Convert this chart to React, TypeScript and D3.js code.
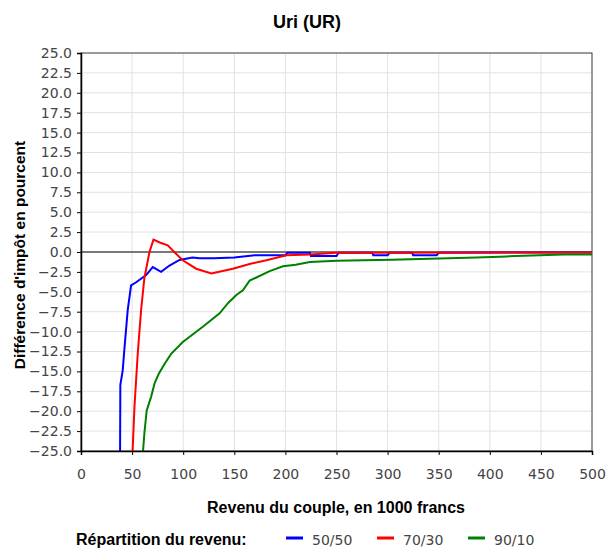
import React, { useRef, useEffect } from "react";
import * as d3 from "d3";

// income of the couple (1000 francs) vs tax difference (%)
const blue5050: [number, number][] = [
  [37.8, -40], [38.5, -16.7], [40.8, -14.9], [42.4, -12.3], [45.7, -7.3], [49, -4.2],
  [54, -3.8], [63.7, -2.9], [70.2, -1.9], [78.4, -2.5], [86.6, -1.7], [96.4, -1.0],
  [109, -0.7], [116, -0.8], [130, -0.8], [150, -0.7], [170, -0.4], [200, -0.4],
  [202, -0.1], [224, -0.1], [225, -0.5], [250, -0.5], [252, -0.1], [285, -0.1],
  [286, -0.4], [300, -0.4], [302, -0.1], [324, -0.1], [325, -0.4], [348, -0.4],
  [350, -0.1], [500, -0.05],
];
const red7030: [number, number][] = [
  [49.5, -28], [52.3, -19.5], [55.5, -12.8], [58.8, -7.3], [62, -3.3], [67, 0],
  [70.9, 1.55], [77, 1.2], [84.9, 0.84], [92, -0.1], [99.6, -1.04], [112.7, -2.1],
  [127.5, -2.7], [148.6, -2.1], [165, -1.5], [181.4, -1.04], [201, -0.4], [224, -0.3],
  [250, -0.1], [500, -0.05],
];
const green9010: [number, number][] = [
  [59.5, -27], [62, -22.8], [64.3, -19.9], [68.6, -18.2], [72, -16.5], [76.1, -15.3],
  [82, -14], [88.2, -12.8], [99.6, -11.3], [119.2, -9.4], [135.6, -7.7], [144, -6.4],
  [152, -5.4], [158.4, -4.8], [165, -3.6], [171.6, -3.2], [184.6, -2.4], [197.6, -1.8],
  [210, -1.6], [224, -1.26], [250, -1.1], [304, -0.96], [387, -0.7], [416.7, -0.55],
  [472, -0.3], [500, -0.3],
];

const series = [
  { name: "50/50", color: "#0000ff", data: blue5050 },
  { name: "70/30", color: "#ff0000", data: red7030 },
  { name: "90/10", color: "#008000", data: green9010 },
];
const xTicks = [0, 50, 100, 150, 200, 250, 300, 350, 400, 450, 500];
const yTicks = d3.range(-25, 25.01, 2.5);

const App = () => {
  const svgRef = useRef<SVGSVGElement>(null);

  useEffect(() => {
    const w = 614;
    const h = 553;
    const margin = { top: 53, right: 22, bottom: 102, left: 81 };
    const svg = d3.select(svgRef.current).attr("width", w).attr("height", h).style("background", "#fff");
    svg.selectAll("*").remove();

    const x = d3.scaleLinear().domain([0, 500]).range([margin.left, w - margin.right]);
    const y = d3.scaleLinear().domain([-25, 25]).range([h - margin.bottom, margin.top]);

    svg.append("defs").append("clipPath").attr("id", "plot-clip")
      .append("rect")
      .attr("x", margin.left).attr("y", margin.top)
      .attr("width", w - margin.left - margin.right)
      .attr("height", h - margin.top - margin.bottom);

    // grid
    svg.append("g").selectAll("line").data(xTicks).enter().append("line")
      .attr("x1", (d) => x(d)).attr("x2", (d) => x(d))
      .attr("y1", margin.top).attr("y2", h - margin.bottom)
      .attr("stroke", "#e2e2e2").attr("stroke-width", 1);
    svg.append("g").selectAll("line").data(yTicks).enter().append("line")
      .attr("x1", margin.left).attr("x2", w - margin.right)
      .attr("y1", (d) => y(d)).attr("y2", (d) => y(d))
      .attr("stroke", "#e2e2e2").attr("stroke-width", 1);

    // frame
    svg.append("rect")
      .attr("x", margin.left).attr("y", margin.top)
      .attr("width", w - margin.left - margin.right)
      .attr("height", h - margin.top - margin.bottom)
      .attr("fill", "none").attr("stroke", "#444").attr("stroke-width", 1);

    // zero line
    svg.append("line")
      .attr("x1", margin.left).attr("x2", w - margin.right)
      .attr("y1", y(0)).attr("y2", y(0))
      .attr("stroke", "#000").attr("stroke-width", 1);

    const line = d3.line<[number, number]>().x((d) => x(d[0])).y((d) => y(d[1]));
    const g = svg.append("g").attr("clip-path", "url(#plot-clip)");
    series.forEach((s) => {
      g.append("path").datum(s.data)
        .attr("d", line)
        .attr("fill", "none")
        .attr("stroke", s.color)
        .attr("stroke-width", 2);
    });

    // axes
    const xAxis = svg.append("g")
      .attr("transform", `translate(0, ${h - margin.bottom})`)
      .call(d3.axisBottom(x).tickValues(xTicks).tickSize(4).tickPadding(14).tickFormat(d3.format("d")));
    const yAxis = svg.append("g")
      .attr("transform", `translate(${margin.left}, 0)`)
      .call(d3.axisLeft(y).tickValues(yTicks).tickSize(4).tickPadding(5).tickFormat(d3.format(".1f")));
    [xAxis, yAxis].forEach((a) => {
      a.select(".domain").attr("stroke", "#000").attr("stroke-width", 1.5);
      a.selectAll(".tick line").attr("stroke", "#000");
      a.selectAll(".tick text")
        .attr("fill", "#444")
        .style("font-family", "'DejaVu Sans', sans-serif")
        .style("font-size", "14px");
    });

    const bold = (sel: d3.Selection<SVGTextElement, unknown, null, undefined>, size: number) =>
      sel.style("font-family", "'Liberation Sans', Arial, sans-serif")
        .style("font-weight", "bold").style("font-size", `${size}px`);

    // titles
    bold(svg.append("text")
      .attr("x", 307).attr("y", 28)
      .attr("text-anchor", "middle"), 18)
      .text("Uri (UR)");
    bold(svg.append("text")
      .attr("x", 336).attr("y", 513)
      .attr("text-anchor", "middle"), 16)
      .text("Revenu du couple, en 1000 francs");
    bold(svg.append("text")
      .attr("transform", `translate(25, ${y(0) + 3}) rotate(-90)`)
      .attr("text-anchor", "middle"), 15.5)
      .text("Différence d'impôt en pourcent");

    // legend
    bold(svg.append("text").attr("x", 76).attr("y", 545), 16)
      .text("Répartition du revenu:");
    const legendX = [286, 377, 468];
    series.forEach((s, i) => {
      svg.append("line")
        .attr("x1", legendX[i]).attr("x2", legendX[i] + 17)
        .attr("y1", 538).attr("y2", 538)
        .attr("stroke", s.color).attr("stroke-width", 3);
      svg.append("text")
        .attr("x", legendX[i] + 26).attr("y", 545)
        .attr("fill", "#444")
        .style("font-family", "'DejaVu Sans', sans-serif")
        .style("font-size", "14px")
        .text(s.name);
    });
  }, []);

  return (
    <div style={{ position: "absolute", left: 0, top: 0 }}>
      <svg ref={svgRef}></svg>
    </div>
  );
};

export default App;
